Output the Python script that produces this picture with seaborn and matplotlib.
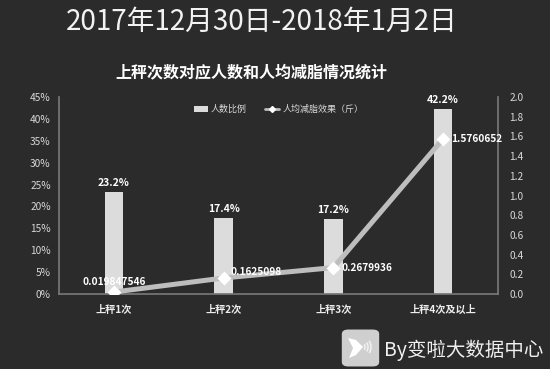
import matplotlib
matplotlib.use("Agg")
import matplotlib.pyplot as plt
import seaborn as sns
import pandas as pd
from matplotlib.patches import Patch, FancyBboxPatch, Polygon, Arc
from matplotlib.lines import Line2D

categories = ["上秤1次", "上秤2次", "上秤3次", "上秤4次及以上"]
share_pct = [23.2, 17.4, 17.2, 42.2]
fat_loss = [0.019847546, 0.1625098, 0.2679936, 1.5760652]
fat_labels = ["0.019847546", "0.1625098", "0.2679936", "1.5760652"]
left_ticks = [0, 5, 10, 15, 20, 25, 30, 35, 40, 45]
right_ticks = [0.0, 0.2, 0.4, 0.6, 0.8, 1.0, 1.2, 1.4, 1.6, 1.8, 2.0]

BG = "#2b2b2b"
sns.set_theme(style="dark")
plt.rcParams["font.family"] = ["Noto Sans CJK SC", "DejaVu Sans"]

df = pd.DataFrame({"cat": categories, "share": share_pct, "loss": fat_loss})

fig = plt.figure(figsize=(5.5, 3.69), dpi=100, facecolor=BG)
ax = fig.add_axes([59/550, 1-294/369, (498-59)/550, (294-97)/369])
ax.set_facecolor(BG)

sns.barplot(data=df, x="cat", y="share", color="#dcdcdc", width=0.17,
            saturation=1, ax=ax, edgecolor="none")
ax.set_ylim(0, 45)
ax.set_yticks(left_ticks)
ax.set_yticklabels([f"{v}%" for v in left_ticks])
ax.set_xlabel("")
ax.set_ylabel("")
for c in ax.containers:
    ax.bar_label(c, labels=[f"{v}%" for v in share_pct], padding=3,
                 color="white", fontsize=7.5, fontweight="bold")

ax2 = ax.twinx()
sns.pointplot(data=df, x="cat", y="loss", color="#bdbdbd", markers="",
              linewidth=3.6, ax=ax2)
sns.pointplot(data=df, x="cat", y="loss", color="white", markers="D",
              linestyles="none", markersize=5, ax=ax2)
ax2.set_ylim(0, 2.0)
ax2.set_yticks(right_ticks)
ax2.set_yticklabels([f"{v:.1f}" for v in right_ticks])
ax2.set_xlabel("")
ax2.set_ylabel("")
ax.set_xlim(-0.5, 3.5)
ax2.set_xlim(-0.5, 3.5)
ax2.grid(False)
ax.grid(False)

offsets = [(0, 7.5, "center"), (5, 4, "left"), (6, 0, "left"), (6, 0, "left")]
for i, (v, lab) in enumerate(zip(fat_loss, fat_labels)):
    dx, dy, ha = offsets[i]
    ax2.annotate(lab, (i, v), xytext=(dx, dy), textcoords="offset points",
                 ha=ha, va="center", color="white", fontsize=7.3, fontweight="bold")

for a in (ax, ax2):
    for s in a.spines.values():
        s.set_visible(False)
ax.spines["left"].set_visible(True)
ax.spines["left"].set_color("#777777")
ax.spines["bottom"].set_visible(True)
ax.spines["bottom"].set_color("#777777")
ax2.spines["right"].set_visible(True)
ax2.spines["right"].set_color("#777777")

ax.tick_params(axis="y", colors="#d9d9d9", labelsize=7.3, length=0, pad=6)
ax2.tick_params(axis="y", colors="#d9d9d9", labelsize=7.3, length=0, pad=8)
ax.tick_params(axis="x", colors="#d9d9d9", labelsize=7.3, length=0, pad=8)
for t in ax.get_xticklabels():
    t.set_fontweight("bold")
    t.set_color("#eeeeee")
ax.set_xticks([-0.5, 0.5, 1.5, 2.5, 3.5], minor=True)
ax.tick_params(axis="x", which="minor", length=3, color="#777777", direction="out")

handles = [Patch(facecolor="#dcdcdc", edgecolor="none"),
           Line2D([0], [0], color="#bdbdbd", lw=2, marker="D", markersize=3,
                  markerfacecolor="white", markeredgecolor="white")]
ax.legend(handles, ["人数比例", "人均减脂效果（斤）"], loc="upper center",
          bbox_to_anchor=(0.5, 1.0), ncol=2, frameon=False, fontsize=6.5,
          handlelength=1.6, handleheight=0.6, columnspacing=2.0,
          handletextpad=0.3, labelcolor="#d9d9d9")

fig.text(262/550, 1-22/369, "2017年12月30日-2018年1月2日", ha="center", va="center",
         color="#f2f2f2", fontsize=20)
fig.text(251/550, 1-72/369, "上秤次数对应人数和人均减脂情况统计", ha="center", va="center",
         color="white", fontsize=11.5, fontweight="bold")

# watermark icon
box = FancyBboxPatch((344/550, 1-365/369), 33/550, 34/369,
                     boxstyle="round,pad=0.004,rounding_size=0.012",
                     transform=fig.transFigure, facecolor="#cfcfcf",
                     edgecolor="none")
fig.patches.append(box)
chev = Polygon([(348/550, 1-338/369), (356/550, 1-340/369), (363/550, 1-347/369),
                (356/550, 1-355/369), (349/550, 1-358/369), (353/550, 1-348/369)],
               closed=True, transform=fig.transFigure,
               facecolor="white", edgecolor="none")
fig.patches.append(chev)
for k, r in enumerate([5, 8, 11]):
    arc = Arc((360/550, 1-347/369), 2*r/550, 2*r/369, theta1=-45, theta2=45,
              transform=fig.transFigure, color="#f0f0f0", lw=1.2)
    fig.patches.append(arc)
fig.text(384/550, 1-350/369, "By变啦大数据中心", ha="left", va="center",
         color="#f0f0f0", fontsize=14)

fig.savefig("out.png", dpi=100, facecolor=BG)
